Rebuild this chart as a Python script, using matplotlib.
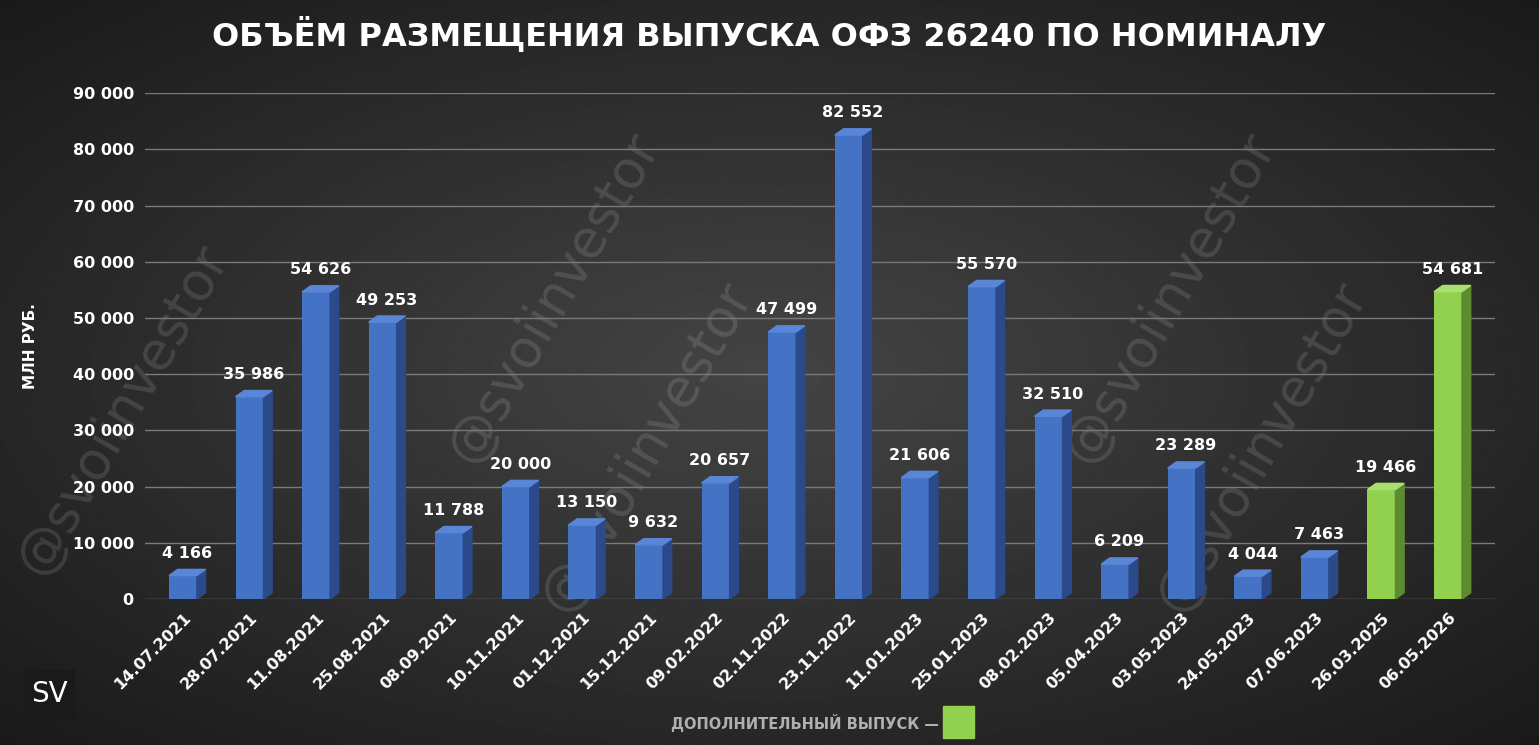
import numpy as np
import matplotlib.pyplot as plt
from matplotlib.patches import Polygon, Rectangle

dates = ["14.07.2021", "28.07.2021", "11.08.2021", "25.08.2021", "08.09.2021", "10.11.2021",
         "01.12.2021", "15.12.2021", "09.02.2022", "02.11.2022", "23.11.2022", "11.01.2023",
         "25.01.2023", "08.02.2023", "05.04.2023", "03.05.2023", "24.05.2023", "07.06.2023",
         "26.03.2025", "06.05.2026"]
values = [4166, 35986, 54626, 49253, 11788, 20000, 13150, 9632, 20657, 47499, 82552, 21606,
          55570, 32510, 6209, 23289, 4044, 7463, 19466, 54681]
extra = [False] * 18 + [True, True]

fig = plt.figure(figsize=(15.39, 7.45), dpi=100)

# background radial gradient
bg = fig.add_axes([0, 0, 1, 1])
yy, xx = np.mgrid[-1:1:300j, -1:1:600j]
r = np.sqrt(xx ** 2 + yy ** 2)
bg.imshow(0.27 - 0.12 * r, cmap="gray", vmin=0, vmax=1, aspect="auto", extent=[0, 1, 0, 1])
bg.set_xlim(0, 1)
bg.set_ylim(0, 1)
bg.axis("off")

# watermarks
for x, y in [(0.36, 0.6), (0.76, 0.6), (0.08, 0.45), (0.42, 0.4), (0.82, 0.4)]:
    bg.text(x, y, "@svoiinvestor", color="white", alpha=0.12, fontsize=38, rotation=60,
            ha="center", va="center")

ax = fig.add_axes([0.0942, 0.196, 0.877, 0.679])
ax.set_facecolor("none")
for s in ax.spines.values():
    s.set_visible(False)

x = np.arange(len(values))
w = 0.42
dx, dy = 0.13, 1100
for xi, v, e in zip(x, values, extra):
    front = "#92D050" if e else "#4472C4"
    side = "#5E8A30" if e else "#2B4A8A"
    top = "#A8E070" if e else "#5A86D8"
    ax.bar(xi, v, width=w, color=front, zorder=3)
    l, rr = xi - w / 2, xi + w / 2
    ax.add_patch(Polygon([[rr, 0], [rr + dx, dy], [rr + dx, v + dy], [rr, v]], color=side, zorder=3))
    ax.add_patch(Polygon([[l, v], [l + dx, v + dy], [rr + dx, v + dy], [rr, v]], color=top, zorder=3))
    ax.text(xi + dx / 2, v + dy + 1500, f"{v:,}".replace(",", " "), color="white",
            fontsize=11.5, fontweight="bold", ha="center", va="bottom", zorder=4)

ax.set_ylim(0, 90000)
ax.set_xlim(-0.57, 19.7)
ax.set_yticks(np.arange(0, 90001, 10000))
ax.set_yticklabels([f"{t:,}".replace(",", " ") for t in range(0, 90001, 10000)])
ax.yaxis.grid(True, color="#7a7a7a", lw=1, zorder=0)
ax.set_xticks(x)
ax.set_xticklabels(dates, rotation=45, ha="right", rotation_mode="anchor")
ax.tick_params(colors="white", length=0, labelsize=11.5, pad=8)
for lab in ax.get_xticklabels() + ax.get_yticklabels():
    lab.set_fontweight("bold")
ax.set_ylabel("МЛН РУБ.", color="white", fontsize=11, fontweight="bold", labelpad=25)

fig.text(0.5, 0.955, "ОБЪЁМ РАЗМЕЩЕНИЯ ВЫПУСКА ОФЗ 26240 ПО НОМИНАЛУ", color="white",
         fontsize=23, fontweight="bold", ha="center", va="center")

fig.text(0.61, 0.03, "ДОПОЛНИТЕЛЬНЫЙ ВЫПУСК —", color="#b0b0b0", fontsize=10.5,
         fontweight="bold", ha="right", va="center")
fig.patches.append(Rectangle((0.613, 0.01), 0.02, 0.042, color="#92D050", transform=fig.transFigure))

fig.patches.append(Rectangle((0.016, 0.035), 0.032, 0.066, color="#1a1a1a", transform=fig.transFigure))
fig.text(0.032, 0.068, "SV", color="white", fontsize=20, ha="center", va="center")

fig.savefig("out.png", dpi=100)
